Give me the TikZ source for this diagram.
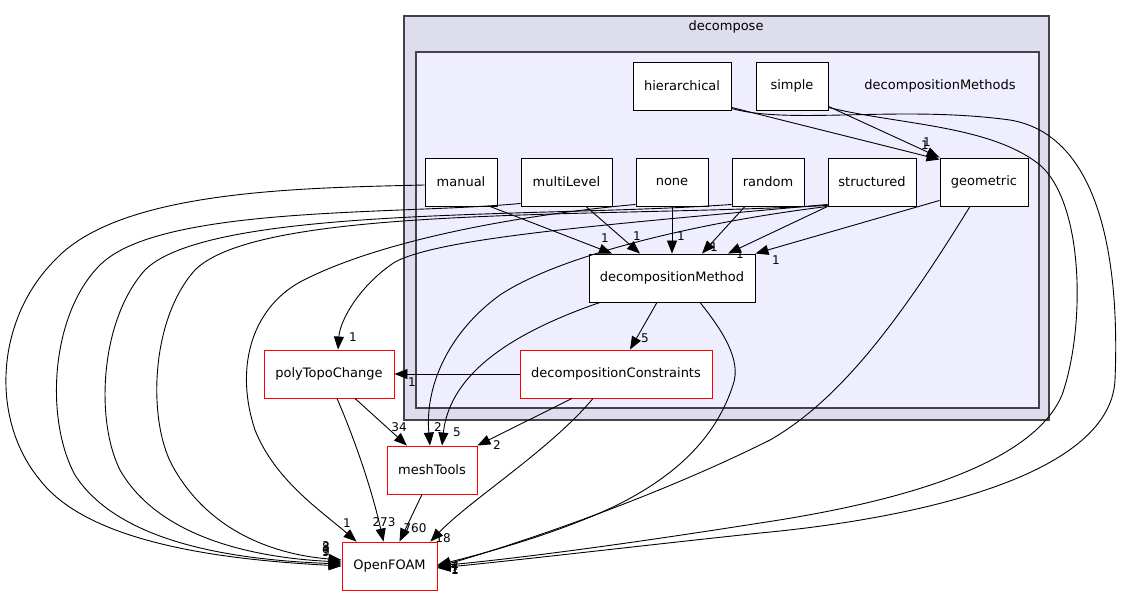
\documentclass[tikz,border=0pt]{standalone}
\usepackage{fontspec}
\setmainfont{DejaVu Sans}
\usetikzlibrary{arrows.meta,calc}
\definecolor{outerfill}{HTML}{DDDDEE}
\definecolor{innerfill}{HTML}{EEEEFF}
\definecolor{clborder}{HTML}{444444}
\definecolor{nodered}{HTML}{FF0000}
\begin{document}
\begin{tikzpicture}[x=1pt,y=-1pt,
  box/.style={draw=black, fill=white, line width=0.9pt, minimum height=48pt, inner sep=0pt, font=\fontsize{13}{15}\selectfont},
  redbox/.style={box, draw=nodered},
  edge/.style={draw=black, line width=0.9pt, -{Triangle[length=13pt,width=10pt]}},
  lbl/.style={font=\fontsize{12}{14}\selectfont, inner sep=0pt},
  cl/.style={font=\fontsize{13}{15}\selectfont, inner sep=0pt},
  cluster/.style={draw=clborder, line width=1.3pt}]
\useasboundingbox (0,0) rectangle (1122,596);
\fill[white] (0,0) rectangle (1122,596);
% clusters
\draw[cluster, fill=outerfill] (404,16) rectangle (1049,420);
\draw[cluster, fill=innerfill] (416,52) rectangle (1039,408);
\node[cl] (decomposelbl) at (726,27) {decompose};
\node[cl] (dmlbl) at (940,86) {decompositionMethods};
% nodes
\node[box, minimum width=98pt] (hier) at (682,86) {hierarchical};
\node[box, minimum width=72pt] (simple) at (792,86) {simple};
\node[box, minimum width=72pt] (manual) at (461,182) {manual};
\node[box, minimum width=91pt] (multi) at (566.5,182) {multiLevel};
\node[box, minimum width=72pt] (none) at (672,182) {none};
\node[box, minimum width=72pt] (random) at (768,182) {random};
\node[box, minimum width=88pt] (structured) at (872,182) {structured};
\node[box, minimum width=88pt] (geometric) at (984,182) {geometric};
\node[box, minimum width=166pt] (dm) at (672,278) {decompositionMethod};
\node[redbox, minimum width=192pt] (dC) at (616,374) {decompositionConstraints};
\node[redbox, minimum width=130pt] (poly) at (329,374) {polyTopoChange};
\node[redbox, minimum width=90pt] (mesh) at (432,470) {meshTools};
\node[redbox, minimum width=95pt] (openfoam) at (389.5,566) {OpenFOAM};
% edges to decompositionMethod
\draw[edge] ($(manual.south)+(29,0)$) -- ($(dm.north)+(-60,0)$);
\draw[edge] ($(multi.south)+(19.5,0)$) -- ($(dm.north)+(-32,0)$);
\draw[edge] (none.south) -- (dm.north);
\draw[edge] ($(random.south)+(-23,0)$) -- ($(dm.north)+(30,0)$);
\draw[edge] (structured.south west) -- ($(dm.north)+(56,0)$);
\draw[edge] ($(geometric.south west)+(0,-6)$) -- (dm.north east);
% edges to geometric
\draw[edge] ($(hier.south east)+(0,-3)$) -- ($(geometric.north west)+(0,2)$);
\draw[edge] ($(simple.south east)+(0,-4)$) -- (geometric.north west);
% right side curves to OpenFOAM
\draw[edge] ($(hier.south east)+(0,-2)$) .. controls (790,125) and (900,105) .. (1010,120) .. controls (1100,135) and (1120,260) .. (1115,380) .. controls (1110,480) and (900,520) .. (760,533) .. controls (620,548) and (520,560) .. ($(openfoam.east)+(0,2)$);
\draw[edge] ($(simple.south east)+(0,-3)$) .. controls (900,125) and (990,125) .. (1040,165) .. controls (1085,205) and (1085,330) .. (1062,395) .. controls (1030,470) and (880,505) .. (760,523) .. controls (620,545) and (520,558) .. (openfoam.east);
\draw[edge] ($(geometric.south)+(-14,0)$) .. controls (900,320) and (840,400) .. (770,440) .. controls (660,495) and (530,540) .. ($(openfoam.east)+(0,1)$);
\draw[edge] ($(dm.south)+(28,0)$) .. controls (722,330) and (742,360) .. (733,385) .. controls (720,425) and (690,470) .. (613,507) .. controls (560,532) and (490,552) .. ($(openfoam.east)+(0,-1)$);
% lower edges
\draw[edge] ($(dC.south)+(-23,0)$) .. controls (550,450) and (470,500) .. ($(openfoam.north east)+(-7,0)$);
\draw[edge] ($(mesh.south)+(-10,0)$) -- ($(openfoam.north)+(10,0)$);
\draw[edge] ($(poly.south)+(8,0)$) .. controls (355,440) and (372,490) .. ($(openfoam.north)+(-6,0)$);
\draw[edge] ($(poly.south)+(26,0)$) -- ($(mesh.north)+(-25,0)$);
\draw[edge] (dC.west) -- (poly.east);
\draw[edge] ($(dC.south)+(-44,0)$) -- (mesh.north east);
\draw[edge] ($(dm.south)+(-15,0)$) -- ($(dC.north)+(14,0)$);
\draw[edge] ($(dm.south)+(-72,0)$) .. controls (520,330) and (450,370) .. ($(mesh.north)+(10,0)$);
\draw[edge] (structured.south west) .. controls (700,222) and (560,255) .. (500,295) .. controls (445,335) and (425,390) .. ($(mesh.north)+(-2,0)$);
\draw[edge] ($(structured.south west)+(0,-2)$) .. controls (600,225) and (440,238) .. (395,262) .. controls (360,285) and (340,320) .. ($(poly.north)+(9,0)$);
% left curves to OpenFOAM
\draw[edge] ($(manual.west)+(0,3)$) .. controls (300,188) and (120,190) .. (55,260) .. controls (-5,320) and (-10,420) .. (40,480) .. controls (90,545) and (230,560) .. (openfoam.west);
\draw[edge] ($(multi.south west)+(0,-3)$) .. controls (400,215) and (160,205) .. (100,265) .. controls (50,315) and (45,420) .. (75,475) .. controls (120,545) and (240,560) .. ($(openfoam.west)+(0,-2)$);
\draw[edge] ($(random.south west)+(0,-2)$) .. controls (550,218) and (210,205) .. (145,270) .. controls (100,320) and (95,420) .. (120,470) .. controls (160,540) and (260,558) .. ($(openfoam.west)+(0,-4)$);
\draw[edge] ($(structured.south west)+(0,-1)$) .. controls (600,218) and (260,205) .. (195,270) .. controls (150,320) and (148,420) .. (172,465) .. controls (210,535) and (280,555) .. ($(openfoam.west)+(0,-6)$);
\draw[edge] ($(none.south west)+(0,-2)$) .. controls (520,215) and (380,240) .. (300,282) .. controls (250,310) and (235,370) .. (255,430) .. controls (275,480) and (320,510) .. ($(openfoam.north west)+(15,0)$);
% labels
\node[lbl] (l1) at (605,238) {1};
\node[lbl] (l2) at (637,236) {1};
\node[lbl] (l3) at (681,236) {1};
\node[lbl] (l4) at (714,247) {1};
\node[lbl] (l5) at (740,254) {1};
\node[lbl] (l6) at (776,260) {1};
\node[lbl] (l7) at (925,145) {1};
\node[lbl] (l8) at (927,142) {1};
\node[lbl] (l9) at (353,337) {1};
\node[lbl] (l10) at (412,382) {1};
\node[lbl] (l11) at (399,427) {34};
\node[lbl] (l12) at (438,427) {2};
\node[lbl] (l13) at (457,432) {5};
\node[lbl] (l14) at (497,445) {2};
\node[lbl] (l15) at (645,338) {5};
\node[lbl] (l16) at (347,523) {1};
\node[lbl] (l17) at (384,522) {273};
\node[lbl] (l18) at (415,528) {760};
\node[lbl] (l19) at (443,538) {18};
\node[lbl] (l20) at (326,546) {3};
\node[lbl] (l21) at (326,547) {8};
\node[lbl] (l22) at (326,551) {1};
\node[lbl] (l23) at (326,552) {9};
\node[lbl] (l24) at (455,566) {4};
\node[lbl] (l25) at (455,567) {7};
\node[lbl] (l26) at (455,569) {1};
\node[lbl] (l27) at (455,570) {1};
\end{tikzpicture}
\end{document}
